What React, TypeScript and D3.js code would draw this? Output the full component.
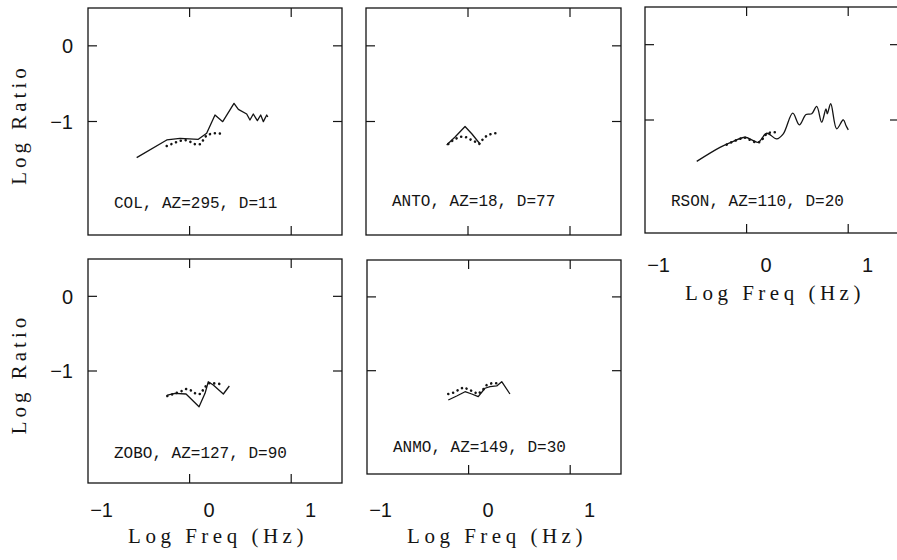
import * as d3 from 'd3';

// tick values
const xTickValues = [0, 1];
const yTickValues = [0, -1];
const xTickLabels = [-1, 0, 1];
const yTickLabels = [0, -1];

// station labels
const stationLabels = [
  'COL, AZ=295, D=11',
  'ANTO, AZ=18, D=77',
  'RSON, AZ=110, D=20',
  'ZOBO, AZ=127, D=90',
  'ANMO, AZ=149, D=30',
];

// COL
const colFreq = [-0.521, -0.225, -0.094, 0.086, 0.168, 0.25, 0.326, 0.437, 0.48, 0.562, 0.594, 0.627, 0.667, 0.7, 0.726, 0.759, 0.77];
const colRatio = [-1.478, -1.244, -1.222, -1.235, -1.156, -0.914, -1.002, -0.76, -0.839, -0.901, -0.98, -0.901, -0.989, -0.914, -1.002, -0.914, -0.94];
const colDotFreq = [-0.225, -0.16, -0.104, -0.045, 0.004, 0.053, 0.102, 0.135, 0.168, 0.233, 0.282, 0.319];
const colDotRatio = [-1.324, -1.288, -1.258, -1.244, -1.266, -1.301, -1.301, -1.244, -1.178, -1.156, -1.156, -1.165];

// ANTO
const antoFreq = [-0.209, -0.127, -0.029, 0.039, 0.118];
const antoRatio = [-1.31, -1.205, -1.066, -1.165, -1.297];
const antoDotFreq = [-0.193, -0.144, -0.078, -0.029, 0.02, 0.069, 0.111, 0.157, 0.199, 0.248, 0.314];
const antoDotRatio = [-1.297, -1.244, -1.201, -1.201, -1.235, -1.267, -1.297, -1.214, -1.178, -1.156, -1.156];

// RSON
const rsonFreq = [-0.491, -0.262, -0.131, -0.016, 0.066, 0.115, 0.198, 0.296, 0.361, 0.454, 0.519, 0.585, 0.641, 0.69, 0.739, 0.781, 0.794, 0.828, 0.887, 0.952, 0.978, 1.001];
const rsonRatio = [-1.549, -1.363, -1.283, -1.229, -1.273, -1.296, -1.176, -1.251, -1.184, -0.909, -1.064, -0.927, -0.917, -0.82, -1.029, -0.851, -0.917, -0.784, -1.117, -0.997, -1.073, -1.131];
const rsonDotFreq = [-0.196, -0.131, -0.082, -0.026, 0.033, 0.083, 0.125, 0.158, 0.198, 0.247, 0.312];
const rsonDotRatio = [-1.327, -1.283, -1.26, -1.229, -1.264, -1.296, -1.296, -1.251, -1.176, -1.163, -1.163];

// ZOBO
const zoboFreq = [-0.219, -0.144, -0.035, 0.093, 0.152, 0.184, 0.233, 0.332, 0.391];
const zoboRatio = [-1.322, -1.299, -1.308, -1.478, -1.299, -1.144, -1.188, -1.308, -1.201];
const zoboDotFreq = [-0.219, -0.16, -0.094, -0.035, 0.021, 0.063, 0.109, 0.142, 0.184, 0.233, 0.299];
const zoboDotRatio = [-1.335, -1.308, -1.278, -1.241, -1.264, -1.308, -1.308, -1.232, -1.165, -1.165, -1.174];

// ANMO
const anmoFreq = [-0.2, -0.117, -0.035, 0.031, 0.095, 0.161, 0.211, 0.277, 0.326, 0.407];
const anmoRatio = [-1.397, -1.343, -1.285, -1.316, -1.352, -1.238, -1.217, -1.207, -1.149, -1.316];
const anmoDotFreq = [-0.2, -0.151, -0.101, -0.052, -0.003, 0.046, 0.095, 0.145, 0.178, 0.227, 0.277];
const anmoDotRatio = [-1.316, -1.298, -1.262, -1.225, -1.252, -1.285, -1.316, -1.252, -1.194, -1.171, -1.171];

const series = [
  { f: colFreq, r: colRatio, df: colDotFreq, dr: colDotRatio },
  { f: antoFreq, r: antoRatio, df: antoDotFreq, dr: antoDotRatio },
  { f: rsonFreq, r: rsonRatio, df: rsonDotFreq, dr: rsonDotRatio },
  { f: zoboFreq, r: zoboRatio, df: zoboDotFreq, dr: zoboDotRatio },
  { f: anmoFreq, r: anmoRatio, df: anmoDotFreq, dr: anmoDotRatio },
];

// panel placement (pixels)
const layout = [
  { left: 88, top: 8, w: 254, h: 227, yMin: -2.5, yLab: true, xLab: false, textGap: 27, tickY: 0, titleY: 0, smooth: false },
  { left: 366, top: 8, w: 255, h: 227, yMin: -2.5, yLab: false, xLab: false, textGap: 29, tickY: 0, titleY: 0, smooth: false },
  { left: 645, top: 7, w: 254, h: 226, yMin: -2.5, yLab: false, xLab: true, textGap: 27, tickY: 265, titleY: 300, smooth: true },
  { left: 88, top: 259, w: 254, h: 224, yMin: -2.5, yLab: true, xLab: true, textGap: 25, tickY: 510, titleY: 543, smooth: false },
  { left: 367, top: 260, w: 254, h: 214, yMin: -2.4, yLab: false, xLab: true, textGap: 22, tickY: 510, titleY: 543, smooth: false },
];

const ink = '#141414';
const numFont = '"Liberation Sans", Arial, sans-serif';
const titleFont = '"Liberation Serif", serif';
const monoFont = '"Liberation Mono", monospace';
const tickLen = 9;

function Panel({ idx }: { idx: number }) {
  const L = layout[idx];
  const s = series[idx];
  const x = d3.scaleLinear().domain([-1, 1.5]).range([L.left, L.left + L.w]);
  const y = d3.scaleLinear().domain([L.yMin, 0.5]).range([L.top + L.h, L.top]);
  const line = d3.line<[number, number]>().x(d => x(d[0])).y(d => y(d[1]));
  const solidLine = d3.line<[number, number]>().x(d => x(d[0])).y(d => y(d[1]))
    .curve(L.smooth ? d3.curveCatmullRom.alpha(0.5) : d3.curveLinear);
  const solid = s.f.map((v, i) => [v, s.r[i]] as [number, number]);
  const dots = s.df.map((v, i) => [v, s.dr[i]] as [number, number]);
  const bottom = L.top + L.h;
  const right = L.left + L.w;

  return (
    <g>
      <rect x={L.left} y={L.top} width={L.w} height={L.h} fill="none" stroke={ink} strokeWidth={1.3} />
      {xTickValues.map(t => (
        <g key={'xt' + t}>
          <line x1={x(t)} x2={x(t)} y1={L.top} y2={L.top + tickLen} stroke={ink} strokeWidth={1.2} />
          <line x1={x(t)} x2={x(t)} y1={bottom} y2={bottom - tickLen} stroke={ink} strokeWidth={1.2} />
        </g>
      ))}
      {yTickValues.map(t => (
        <g key={'yt' + t}>
          <line x1={L.left} x2={L.left + tickLen} y1={y(t)} y2={y(t)} stroke={ink} strokeWidth={1.2} />
          <line x1={right} x2={right - tickLen} y1={y(t)} y2={y(t)} stroke={ink} strokeWidth={1.2} />
        </g>
      ))}
      <path d={solidLine(solid) || ''} fill="none" stroke={ink} strokeWidth={1.3} strokeLinejoin="round" />
      <path d={line(dots) || ''} fill="none" stroke={ink} strokeWidth={2.6} strokeLinecap="round" strokeDasharray="0.01 5" />
      <text x={L.left + 26} y={bottom - L.textGap} fontFamily={monoFont} fontSize={16} fill={ink}>
        {stationLabels[idx]}
      </text>
      {L.yLab && (
        <g>
          {yTickLabels.map(t => (
            <text key={'yl' + t} x={L.left - 15} y={y(t)} dy="0.36em" textAnchor="end"
              fontFamily={numFont} fontSize={20} fill={ink}>
              {t < 0 ? '\u2212' + Math.abs(t) : String(t)}
            </text>
          ))}
          <text transform={`translate(26,${L.top + L.h / 2 + 3}) rotate(-90)`} textAnchor="middle"
            fontFamily={titleFont} fontSize={21} letterSpacing={4} fill={ink}>
            Log Ratio
          </text>
        </g>
      )}
      {L.xLab && (
        <g>
          {xTickLabels.map(t => (
            <text key={'xl' + t} x={x(t) + 25} y={L.tickY} dy="0.36em" textAnchor="end"
              fontFamily={numFont} fontSize={20} fill={ink}>
              {t < 0 ? '\u2212' + Math.abs(t) : String(t)}
            </text>
          ))}
          <text x={L.left + L.w / 2 + 3} y={L.titleY} textAnchor="middle"
            fontFamily={titleFont} fontSize={21} letterSpacing={4.5} fill={ink}>
            Log Freq (Hz)
          </text>
        </g>
      )}
    </g>
  );
}

export default function App() {
  return (
    <svg width={897} height={560} style={{ position: 'absolute', left: 0, top: 0, background: '#fff' }}>
      <rect width={897} height={560} fill="#fff" />
      {layout.map((_, i) => <Panel key={i} idx={i} />)}
    </svg>
  );
}
